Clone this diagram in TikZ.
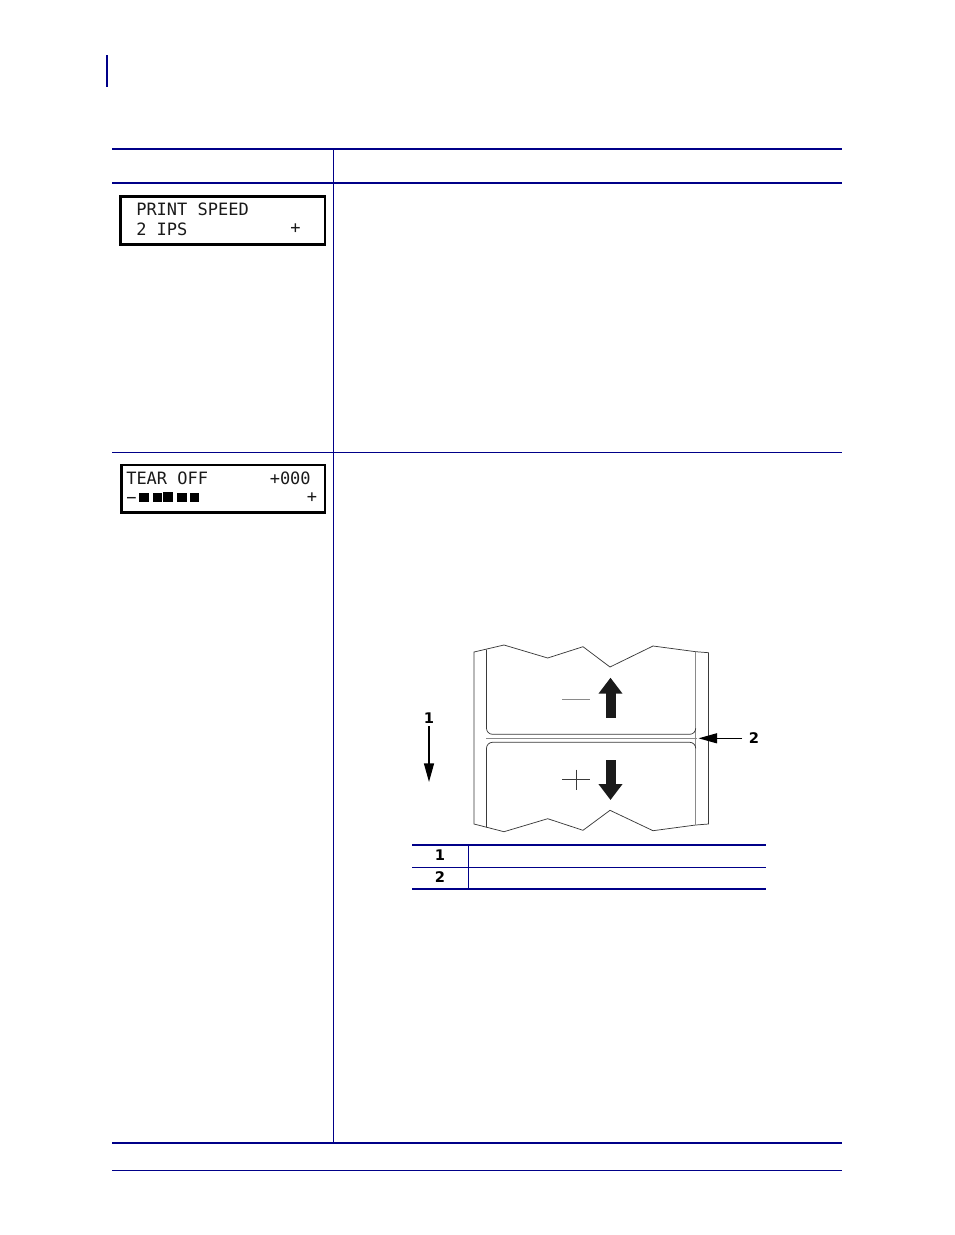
\documentclass[tikz,border=0pt]{standalone}
\usepackage{xcolor}
\usepackage{fontspec}
\usepackage{tikz}
\usetikzlibrary{arrows.meta,positioning,calc}
\newfontfamily\lcdfont{DejaVu Sans Mono}
\newfontfamily\calloutfont{DejaVu Sans}
\definecolor{ManualBlue}{HTML}{000088}
\definecolor{ManualInk}{HTML}{1A1A1A}
\definecolor{ManualLine}{HTML}{3A3A3A}
\definecolor{ManualGray}{HTML}{8A8A8A}

\begin{document}
\begin{tikzpicture}[x=0.75pt,y=-0.75pt,
  rulethin/.style={draw=ManualBlue, line width=0.75pt},
  rulethick/.style={draw=ManualBlue, line width=1.5pt},
  lcdbox/.style={draw=black, line width=2.2pt, inner sep=0pt},
  lcdtext/.style={font=\lcdfont\fontsize{12.75}{12.75}\selectfont, text=ManualInk, anchor=west, inner sep=0pt},
  callout/.style={font=\calloutfont\bfseries\fontsize{11}{11}\selectfont, text=black, inner sep=0pt},
  stock/.style={draw=ManualLine, line width=0.55pt},
  bigarrow/.style={draw=ManualInk, line width=7.5pt, -{Triangle[width=17.3pt,length=12pt]}},
  leader/.style={draw=black, line width=1pt, -{Triangle[width=7.5pt,length=14pt]}}]
  \useasboundingbox (0,0) rectangle (954,1235);
  \fill[white] (0,0) rectangle (954,1235);
  % margin bar
  \draw[rulethin, line width=1.5pt] (107,55) -- (107,86.7);
  % table rules
  \draw[rulethick] (112,149) -- (842,149);
  \draw[rulethick] (112,183) -- (842,183);
  \draw[rulethin] (112,452) -- (842,452);
  \draw[rulethick] (112,1142.5) -- (842,1142.5);
  \draw[rulethin] (112,1170.5) -- (842,1170.5);
  \draw[rulethin] (333.5,149) -- (333.5,1142.5);
  % first display
  \draw[lcdbox] (120.5,196.5) rectangle (325,244.5);
  \node[lcdtext] (speedtop) at (136,209.5) {PRINT SPEED};
  \node[lcdtext] (speedlow) at (136,229) {2 IPS};
  \node[lcdtext] (speedplus) at (290,229) {+};
  % second display
  \draw[lcdbox] (121.5,465) rectangle (325,512.5);
  \node[lcdtext] (teartop) at (126,478) {TEAR OFF};
  \node[lcdtext] (tearval) at (269.5,478) {+000};
  \node[lcdtext] (tearminus) at (126,500) {−};
  \node[lcdtext] (tearplus) at (306.6,497.5) {+};
  \foreach \x/\w/\t/\h in {139.3/10/492.7/9,152.7/9/492.7/9,162.7/10.6/491.7/10,176.7/10/492.7/9,190/9.3/492.7/9}
    \fill[black] (\x,\t) rectangle ++(\w,\h);
  % media strip
  \draw[stock] (474,652) -- (504,645) -- (547.7,658) -- (583,646.7) -- (610,667) -- (653,646) -- (695.7,651.7) -- (708.5,652.7)
    -- (708.5,824) -- (695.7,825) -- (653,830.7) -- (610,810.3) -- (583,830.3) -- (547.7,818.7) -- (504,831.7) -- (474,824) -- cycle;
  \draw[draw=ManualGray, line width=0.6pt] (695.7,651.7) -- (695.7,825);
  \draw[stock] (486.5,649.5) -- (486.5,728.3) arc[start angle=180,end angle=90,radius=6] -- (689.7,734.3) arc[start angle=90,end angle=0,radius=6];
  \draw[stock] (486.5,827.3) -- (486.5,748.3) arc[start angle=180,end angle=270,radius=6] -- (689.7,742.3) arc[start angle=270,end angle=360,radius=6];
  \draw[draw=ManualGray, line width=0.6pt] (486,738.3) -- (696.7,738.3);
  % signs
  \draw[draw=ManualGray, line width=0.6pt] (562,699.5) -- (590,699.5);
  \draw[stock] (562,779.3) -- (590,779.3);
  \draw[stock] (576,769.5) -- (576,789.5);
  % heavy arrows
  \coordinate (uptail) at (610.5,717.7);
  \coordinate (uphead) at (610.5,677.7);
  \coordinate (downtail) at (610.5,760);
  \coordinate (downhead) at (610.5,800);
  \draw[bigarrow] (uptail) -- (uphead);
  \draw[bigarrow] (downtail) -- (downhead);
  % callouts
  \node[callout] (feedlbl) at (429,718.5) {1};
  \node[callout] (gaplbl) at (754,738.3) {2};
  \coordinate (feedend) at (429,782);
  \coordinate (gapend) at (698.5,738.3);
  \draw[leader] ($(feedlbl.south)+(0,2)$) -- (feedend);
  \draw[leader] (gaplbl.west -| 742,0) -- (gapend);
  % key table
  \draw[rulethick] (412,845) -- (766,845);
  \draw[rulethin] (412,867.5) -- (766,867.5);
  \draw[rulethick] (412,889) -- (766,889);
  \draw[rulethin] (468.5,845) -- (468.5,889);
  \node[callout] (keyone) at (440,855.5) {1};
  \node[callout] (keytwo) at (440,877) {2};
\end{tikzpicture}
\end{document}
